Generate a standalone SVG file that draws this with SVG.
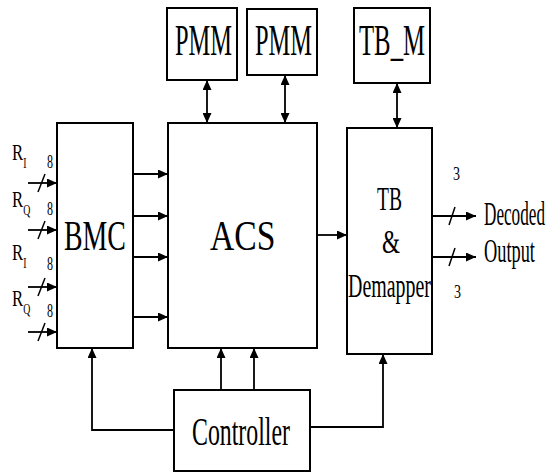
<svg xmlns="http://www.w3.org/2000/svg" width="550" height="473" viewBox="0 0 550 473">
<defs>
<marker id="ah" markerWidth="10" markerHeight="9" refX="10" refY="4.5" orient="auto-start-reverse" markerUnits="userSpaceOnUse">
<path d="M0,0 L10,4.5 L0,9 Z" fill="#000"/>
</marker>
<style>
.box{fill:#fff;stroke:#000;stroke-width:2}
.ar{fill:none;stroke:#000;stroke-width:1.8;marker-end:url(#ah)}
.dar{fill:none;stroke:#000;stroke-width:1.8;marker-start:url(#ah);marker-end:url(#ah)}
.sl{fill:none;stroke:#000;stroke-width:1.5}
text{font-family:"Liberation Serif","Times New Roman",serif;fill:#000}
.r{font-size:24px}
.sub{font-size:14px}
.n{font-size:18px}
</style>
</defs>
<rect width="550" height="473" fill="#fff"/>
<g id="connectors">
<path class="dar" d="M207,80 V123"/>
<path class="dar" d="M285,75 V123"/>
<path class="dar" d="M397,83 V128"/>
<path class="ar" d="M133,174 H168"/>
<path class="ar" d="M133,216 H168"/>
<path class="ar" d="M133,257 H168"/>
<path class="ar" d="M133,317 H168"/>
<path class="ar" d="M317,235 H347"/>
<path class="ar" d="M221,390 V348"/>
<path class="ar" d="M254,390 V348"/>
<path class="ar" d="M174,430 H92 V348"/>
<path class="ar" d="M310,427 H383 V354"/>
<path class="ar" d="M432,216 H476"/>
<path class="ar" d="M432,257 H476"/>
<path class="ar" d="M28,183 H57"/>
<path class="ar" d="M28,230 H57"/>
<path class="ar" d="M28,287 H57"/>
<path class="ar" d="M28,332 H57"/>
<path class="sl" d="M38,192 L45,174"/>
<path class="sl" d="M38,239 L45,221"/>
<path class="sl" d="M38,296 L45,278"/>
<path class="sl" d="M38,341 L45,323"/>
<path class="sl" d="M449,225 L455,207"/>
<path class="sl" d="M449,266 L455,248"/>
</g>
<g id="bmc">
<rect class="box" x="57" y="123" width="76" height="225"/>
<text transform="translate(64,250) scale(0.664,1)" font-size="42">BMC</text>
</g>
<g id="acs">
<rect class="box" x="168" y="123" width="149" height="225"/>
<text transform="translate(210,250) scale(0.8,1)" font-size="42">ACS</text>
</g>
<g id="pmm1">
<rect class="box" x="167" y="8" width="70" height="72"/>
<text transform="translate(175,55) scale(0.555,1)" font-size="44">PMM</text>
</g>
<g id="pmm2">
<rect class="box" x="247" y="9" width="70" height="66"/>
<text transform="translate(255,55) scale(0.555,1)" font-size="44">PMM</text>
</g>
<g id="tbm">
<rect class="box" x="354" y="8" width="76" height="75"/>
<text transform="translate(359,55) scale(0.563,1)" font-size="44">TB_M</text>
</g>
<g id="tb">
<rect class="box" x="347" y="128" width="85" height="226"/>
<text transform="translate(377,210) scale(0.575,1)" font-size="34">TB</text>
<text transform="translate(382,253) scale(0.68,1)" font-size="34">&amp;</text>
<text transform="translate(348,297) scale(0.586,1)" font-size="34">Demapper</text>
</g>
<g id="controller">
<rect class="box" x="174" y="390" width="136" height="81"/>
<text transform="translate(192,445) scale(0.596,1)" font-size="40">Controller</text>
</g>
<g id="labels">
<text transform="translate(484,225) scale(0.52,1)" font-size="33">Decoded</text>
<text transform="translate(484,262) scale(0.556,1)" font-size="33">Output</text>
<text class="n" transform="translate(453,180) scale(0.78,1)">3</text>
<text class="n" transform="translate(454,298) scale(0.78,1)">3</text>
<text class="n" transform="translate(47,168) scale(0.67,1)">8</text>
<text class="n" transform="translate(47,215) scale(0.67,1)">8</text>
<text class="n" transform="translate(47,270) scale(0.67,1)">8</text>
<text class="n" transform="translate(47,317) scale(0.67,1)">8</text>
<text class="r" transform="translate(12,160) scale(0.7,1)">R<tspan class="sub" dy="8">I</tspan></text>
<text class="r" transform="translate(12,207) scale(0.7,1)">R<tspan class="sub" dy="8">Q</tspan></text>
<text class="r" transform="translate(12,260) scale(0.7,1)">R<tspan class="sub" dy="8">I</tspan></text>
<text class="r" transform="translate(12,306) scale(0.7,1)">R<tspan class="sub" dy="8">Q</tspan></text>
</g>
</svg>
